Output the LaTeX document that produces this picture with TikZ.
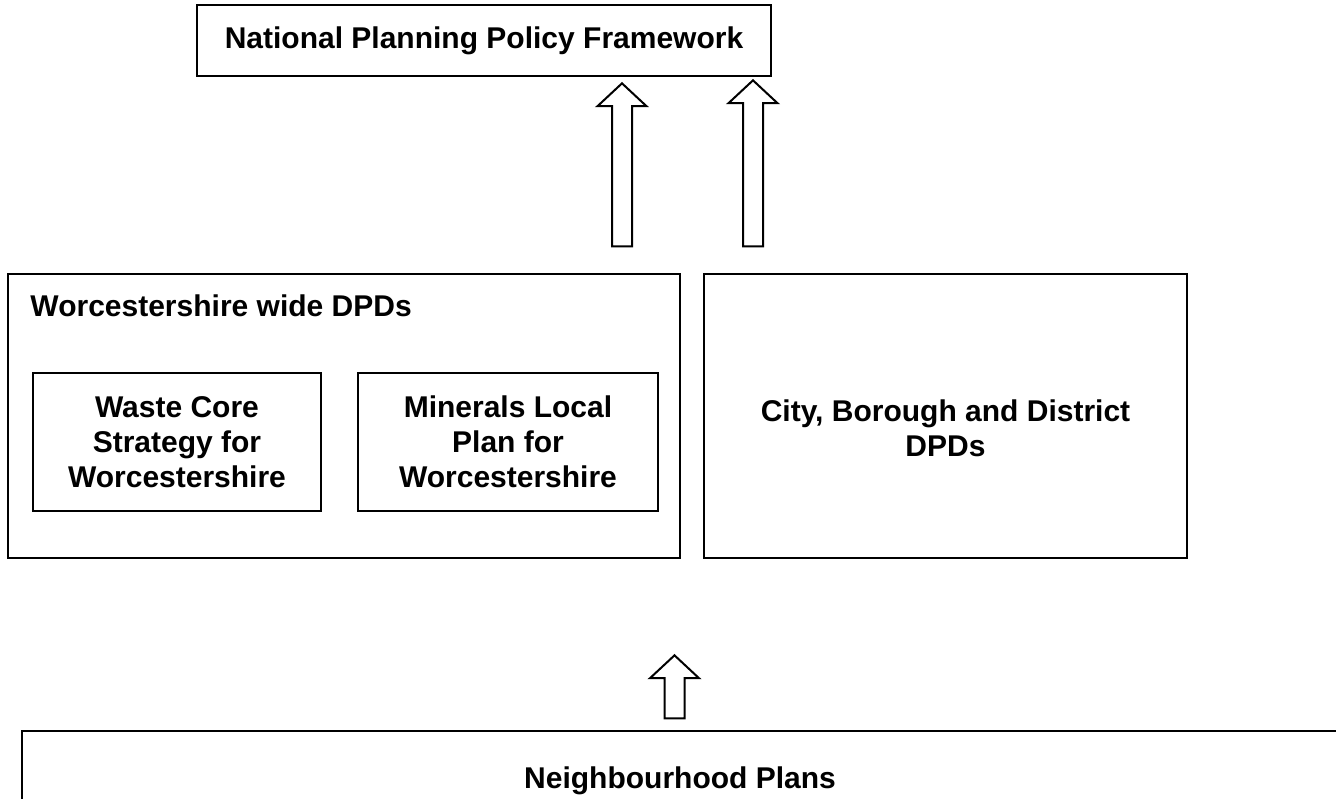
\documentclass[tikz,border=0pt]{standalone}
\usepackage{fontspec}
\setmainfont{Liberation Sans}
\usetikzlibrary{shapes.arrows}

\begin{document}
\begin{tikzpicture}[
        x=0.4pt, y=-0.4pt,
        box/.style={rectangle, draw, line width=0.8pt, inner sep=0pt, align=center,
                    font=\fontsize{12}{14}\selectfont\bfseries},
        plain/.style={inner sep=0pt, align=center, font=\fontsize{12}{14}\selectfont\bfseries},
        uparrow/.style={single arrow, draw, line width=0.8pt, rotate=90, inner sep=3.6pt,
                        minimum width=0pt, single arrow head extend=5.8pt,
                        single arrow tip angle=94, single arrow head indent=0pt}
    ]
        \useasboundingbox (0,0) rectangle (1336,799);

        % National level
        \node[box, minimum width=229.6pt, minimum height=28.4pt] (nppf) at (484,40.5)
            {National Planning Policy Framework};

        % County wide documents
        \node[box, minimum width=268.8pt, minimum height=113.6pt] (county) at (344,416) {};
        \node[plain, anchor=west] (countytitle) at (30,306) {Worcestershire wide DPDs};
        \node[box, minimum width=115.2pt, minimum height=55.2pt] (waste) at (177,442)
            {Waste Core\\Strategy for\\Worcestershire};
        \node[box, minimum width=120pt, minimum height=55.2pt] (minerals) at (508,442)
            {Minerals Local\\Plan for\\Worcestershire};

        % District documents
        \node[box, minimum width=193.2pt, minimum height=113.6pt] (district) at (945.5,416) {};
        \node[plain] (districttitle) at (945.5,428) {City, Borough and District\\DPDs};

        % Neighbourhood level
        \node[box, minimum width=526.4pt, minimum height=40pt] (hood) at (680,781)
            {Neighbourhood Plans};

        % Block arrows up to the next level
        \node[uparrow, minimum height=65.2pt] (upcounty) at (622,169.5) {};
        \node[uparrow, minimum height=66.4pt] (updistrict) at (753,168) {};
        \node[uparrow, minimum height=25.2pt] (uphood) at (674.5,691.5) {};
    \end{tikzpicture}
\end{document}
